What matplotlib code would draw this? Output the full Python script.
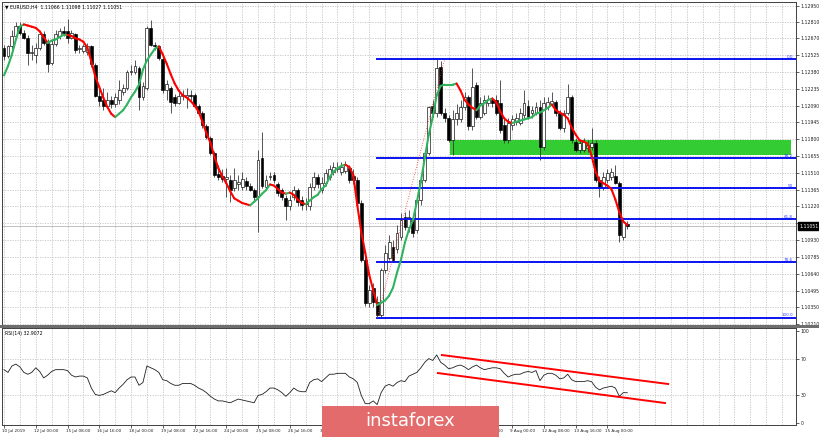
"""
EURUSD H4 - Hull MA, Fibonacci retracement, RSI(14) channel.
Values read off an MT4 screenshot, one entry per H4 bar (10 Jul 16:00 .. 15 Aug 20:00).
"""

import numpy as np
import matplotlib

matplotlib.use("Agg")
import matplotlib.pyplot as plt
from matplotlib.collections import LineCollection
from matplotlib.patches import Rectangle
from matplotlib.transforms import blended_transform_factory, ScaledTranslation

opens = [
    1.1259, 1.1252, 1.1260, 1.1269, 1.1278, 1.1272, 1.1267, 1.1254, 1.1253, 1.1259,
    1.1271, 1.1263, 1.1246, 1.1262, 1.1269, 1.1273, 1.1273, 1.1267, 1.1271, 1.1258,
    1.1256, 1.1255, 1.1260, 1.1244, 1.1217, 1.1214, 1.1209, 1.1214, 1.1210, 1.1214,
    1.1221, 1.1224, 1.1238, 1.1238, 1.1241, 1.1216, 1.1224, 1.1276, 1.1261, 1.1260,
    1.1249, 1.1222, 1.1224, 1.1216, 1.1211, 1.1217, 1.1216, 1.1218, 1.1218, 1.1209,
    1.1203, 1.1191, 1.1181, 1.1168, 1.1150, 1.1148, 1.1146, 1.1145, 1.1138, 1.1141,
    1.1139, 1.1144, 1.1140, 1.1136, 1.1131, 1.1164, 1.1139, 1.1147, 1.1149, 1.1141,
    1.1136, 1.1129, 1.1122, 1.1130, 1.1136, 1.1128, 1.1125, 1.1122, 1.1139, 1.1147,
    1.1136, 1.1142, 1.1147, 1.1152, 1.1154, 1.1152, 1.1153, 1.1155, 1.1148, 1.1145,
    1.1125, 1.1076, 1.1039, 1.1052, 1.1040, 1.1028, 1.1067, 1.1078, 1.1087, 1.1085,
    1.1096, 1.1113, 1.1104, 1.1110, 1.1102, 1.1128, 1.1145, 1.1168, 1.1209, 1.1203,
    1.1242, 1.1203, 1.1198, 1.1179, 1.1197, 1.1197, 1.1208, 1.1216, 1.1191, 1.1227,
    1.1199, 1.1203, 1.1211, 1.1214, 1.1214, 1.1211, 1.1192, 1.1179, 1.1192, 1.1195,
    1.1194, 1.1201, 1.1209, 1.1203, 1.1203, 1.1208, 1.1173, 1.1208, 1.1210, 1.1212,
    1.1203, 1.1190, 1.1203, 1.1216, 1.1178, 1.1171, 1.1171, 1.1172, 1.1173, 1.1177,
    1.1145, 1.1139, 1.1145, 1.1147, 1.1148, 1.1142, 1.1096, 1.11066,
]
highs = [
    1.1261, 1.1261, 1.1274, 1.1281, 1.1281, 1.1274, 1.1270, 1.1261, 1.1263, 1.1273,
    1.1273, 1.1266, 1.1266, 1.1274, 1.1276, 1.1278, 1.1284, 1.1274, 1.1272, 1.1261,
    1.1262, 1.1263, 1.1261, 1.1246, 1.1226, 1.1224, 1.1221, 1.1217, 1.1220, 1.1231,
    1.1228, 1.1240, 1.1244, 1.1248, 1.1243, 1.1229, 1.1278, 1.1283, 1.1264, 1.1261,
    1.1251, 1.1231, 1.1226, 1.1219, 1.1221, 1.1222, 1.1224, 1.1222, 1.1220, 1.1210,
    1.1204, 1.1193, 1.1183, 1.1170, 1.1158, 1.1154, 1.1155, 1.1149, 1.1155, 1.1149,
    1.1152, 1.1147, 1.1142, 1.1138, 1.1171, 1.1186, 1.1149, 1.1152, 1.1152, 1.1143,
    1.1138, 1.1132, 1.1132, 1.1140, 1.1138, 1.1131, 1.1129, 1.1142, 1.1152, 1.1150,
    1.1147, 1.1154, 1.1158, 1.1160, 1.1160, 1.1160, 1.1161, 1.1158, 1.1154, 1.1147,
    1.1128, 1.1080, 1.1054, 1.1056, 1.1045, 1.1069, 1.1089, 1.1097, 1.1093, 1.1106,
    1.1116, 1.1117, 1.1119, 1.1115, 1.1132, 1.1149, 1.1171, 1.1209, 1.1214, 1.1249,
    1.1247, 1.1207, 1.1201, 1.1205, 1.1210, 1.1214, 1.1221, 1.1218, 1.1241, 1.1229,
    1.1216, 1.1218, 1.1218, 1.1216, 1.1218, 1.1231, 1.1197, 1.1198, 1.1201, 1.1203,
    1.1207, 1.1222, 1.1214, 1.1209, 1.1212, 1.1214, 1.1216, 1.1216, 1.1221, 1.1214,
    1.1205, 1.1205, 1.1228, 1.1218, 1.1181, 1.1179, 1.1181, 1.1179, 1.1190, 1.1179,
    1.1148, 1.1152, 1.1154, 1.1155, 1.1158, 1.1144, 1.1112, 1.11098,
]
lows = [
    1.1248, 1.1250, 1.1258, 1.1266, 1.1270, 1.1266, 1.1244, 1.1248, 1.1246, 1.1257,
    1.1261, 1.1238, 1.1244, 1.1260, 1.1266, 1.1269, 1.1263, 1.1266, 1.1254, 1.1254,
    1.1254, 1.1253, 1.1242, 1.1216, 1.1209, 1.1205, 1.1207, 1.1207, 1.1208, 1.1210,
    1.1218, 1.1222, 1.1235, 1.1236, 1.1205, 1.1214, 1.1222, 1.1260, 1.1257, 1.1248,
    1.1220, 1.1214, 1.1203, 1.1209, 1.1210, 1.1214, 1.1207, 1.1214, 1.1208, 1.1202,
    1.1190, 1.1180, 1.1166, 1.1147, 1.1145, 1.1143, 1.1130, 1.1126, 1.1135, 1.1136,
    1.1136, 1.1136, 1.1135, 1.1128, 1.1100, 1.1138, 1.1136, 1.1145, 1.1142, 1.1131,
    1.1128, 1.1110, 1.1119, 1.1128, 1.1122, 1.1119, 1.1119, 1.1119, 1.1136, 1.1138,
    1.1134, 1.1140, 1.1145, 1.1149, 1.1152, 1.1149, 1.1151, 1.1142, 1.1141, 1.1122,
    1.1074, 1.1036, 1.1035, 1.1035, 1.1026, 1.1026, 1.1065, 1.1076, 1.1074, 1.1082,
    1.1093, 1.1102, 1.1100, 1.1096, 1.1099, 1.1123, 1.1143, 1.1166, 1.1199, 1.1199,
    1.1201, 1.1195, 1.1178, 1.1166, 1.1192, 1.1195, 1.1205, 1.1188, 1.1188, 1.1197,
    1.1197, 1.1201, 1.1209, 1.1208, 1.1201, 1.1185, 1.1177, 1.1177, 1.1188, 1.1192,
    1.1192, 1.1198, 1.1197, 1.1198, 1.1201, 1.1162, 1.1171, 1.1205, 1.1209, 1.1200,
    1.1188, 1.1186, 1.1201, 1.1177, 1.1169, 1.1168, 1.1169, 1.1169, 1.1171, 1.1143,
    1.1130, 1.1136, 1.1142, 1.1145, 1.1141, 1.1091, 1.1093, 1.11027,
]
closes = [
    1.1252, 1.1260, 1.1269, 1.1278, 1.1272, 1.1267, 1.1254, 1.1255, 1.1259, 1.1271,
    1.1263, 1.1245, 1.1262, 1.1271, 1.1273, 1.1272, 1.1267, 1.1272, 1.1257, 1.1259,
    1.1260, 1.1260, 1.1245, 1.1217, 1.1213, 1.1209, 1.1214, 1.1210, 1.1216, 1.1222,
    1.1224, 1.1238, 1.1239, 1.1243, 1.1216, 1.1226, 1.1276, 1.1261, 1.1260, 1.1250,
    1.1222, 1.1228, 1.1212, 1.1211, 1.1217, 1.1218, 1.1218, 1.1217, 1.1209, 1.1203,
    1.1192, 1.1182, 1.1168, 1.1149, 1.1147, 1.1146, 1.1147, 1.1136, 1.1145, 1.1143,
    1.1146, 1.1140, 1.1136, 1.1130, 1.1162, 1.1140, 1.1145, 1.1148, 1.1145, 1.1134,
    1.1130, 1.1122, 1.1128, 1.1136, 1.1126, 1.1123, 1.1124, 1.1139, 1.1147, 1.1141,
    1.1142, 1.1151, 1.1154, 1.1156, 1.1155, 1.1156, 1.1158, 1.1145, 1.1145, 1.1125,
    1.1076, 1.1039, 1.1050, 1.1040, 1.1028, 1.1067, 1.1082, 1.1091, 1.1076, 1.1099,
    1.1110, 1.1104, 1.1113, 1.1099, 1.1128, 1.1145, 1.1168, 1.1208, 1.1203, 1.1241,
    1.1203, 1.1198, 1.1179, 1.1197, 1.1203, 1.1208, 1.1216, 1.1191, 1.1225, 1.1199,
    1.1211, 1.1214, 1.1215, 1.1211, 1.1203, 1.1188, 1.1179, 1.1194, 1.1197, 1.1198,
    1.1203, 1.1211, 1.1199, 1.1205, 1.1208, 1.1173, 1.1211, 1.1212, 1.1213, 1.1203,
    1.1190, 1.1203, 1.1216, 1.1179, 1.1171, 1.1177, 1.1178, 1.1175, 1.1177, 1.1145,
    1.1138, 1.1147, 1.1151, 1.1152, 1.1142, 1.1097, 1.1109, 1.11051,
]
hull_ma = [
    1.1235, 1.1243, 1.1253, 1.1266, 1.1277, 1.1279, 1.1278, 1.1277, 1.1276, 1.1273,
    1.1268, 1.1263, 1.1265, 1.1266, 1.1268, 1.1270, 1.1270, 1.1269, 1.1267, 1.1266,
    1.1264, 1.1259, 1.1247, 1.1234, 1.1225, 1.1216, 1.1208, 1.1202, 1.1199, 1.1202,
    1.1205, 1.1210, 1.1216, 1.1221, 1.1227, 1.1240, 1.1248, 1.1253, 1.1258, 1.1260,
    1.1253, 1.1245, 1.1236, 1.1228, 1.1222, 1.1218, 1.1216, 1.1213, 1.1209, 1.1204,
    1.1195, 1.1185, 1.1177, 1.1165, 1.1155, 1.1148, 1.1142, 1.1135, 1.1129, 1.1127,
    1.1125, 1.1124, 1.1123, 1.1126, 1.1129, 1.1133, 1.1136, 1.1141, 1.1140, 1.1137,
    1.1134, 1.1133, 1.1134, 1.1132, 1.1128, 1.1125, 1.1124, 1.1127, 1.1130, 1.1132,
    1.1137, 1.1140, 1.1147, 1.1152, 1.1155, 1.1157, 1.1158, 1.1156, 1.1149, 1.1123,
    1.1100, 1.1082, 1.1063, 1.1050, 1.1037, 1.1039, 1.1041, 1.1045, 1.1052, 1.1065,
    1.1076, 1.1091, 1.1102, 1.1110, 1.1126, 1.1143, 1.1164, 1.1184, 1.1199, 1.1218,
    1.1226, 1.1227, 1.1227, 1.1227, 1.1228, 1.1222, 1.1214, 1.1210, 1.1207, 1.1205,
    1.1209, 1.1211, 1.1214, 1.1215, 1.1212, 1.1204, 1.1198, 1.1195, 1.1194, 1.1195,
    1.1196, 1.1197, 1.1198, 1.1199, 1.1202, 1.1203, 1.1205, 1.1207, 1.1210, 1.1205,
    1.1203, 1.1201, 1.1198, 1.1190, 1.1184, 1.1179, 1.1178, 1.1176, 1.1166, 1.1152,
    1.1144, 1.1142, 1.1140, 1.1137, 1.1128, 1.1117, 1.1109, 1.1106,
]
rsi = [
    58, 55, 62, 64, 61, 55, 53, 55, 60, 56,
    49, 52, 56, 58, 58, 58, 57, 52, 50, 51,
    51, 49, 38, 31, 30, 31, 33, 35, 33, 38,
    42, 47, 50, 50, 41, 44, 62, 60, 58, 55,
    47, 46, 43, 41, 41, 43, 43, 43, 41, 38,
    36, 33, 29, 26, 24, 24, 23, 22, 24, 26,
    25, 24, 23, 22, 30, 31, 34, 38, 38, 36,
    33, 29, 33, 38, 35, 34, 34, 44, 47, 48,
    45, 49, 53, 53, 54, 54, 54, 50, 48, 44,
    30, 21, 21, 24, 20, 33, 40, 42, 40, 44,
    46, 45, 51, 53, 55, 60, 66, 70, 68, 74,
    66, 63, 59, 60, 62, 63, 61, 58, 61, 63,
    60, 58, 59, 60, 60, 59, 54, 50, 52, 53,
    53, 55, 56, 55, 57, 46, 52, 54, 54, 52,
    48, 49, 53, 47, 45, 45, 45, 46, 45, 39,
    36, 38, 39, 40, 38, 29, 33, 32.9072,
]

price_ticks = [
    1.12950, 1.12810, 1.12670, 1.12525, 1.12380, 1.12235, 1.12090, 1.11945, 1.11800, 1.11655,
    1.11510, 1.11365, 1.11220, 1.11075, 1.10930, 1.10785, 1.10640, 1.10495, 1.10350, 1.10210,
]
date_bars = [0, 8, 16, 24, 32, 40, 48, 56, 64, 72, 80, 88, 96, 104, 112, 120, 128, 136, 144, 152]
date_labels = [
    "10 Jul 2019", "12 Jul 00:00", "15 Jul 08:00", "16 Jul 16:00", "18 Jul 00:00",
    "19 Jul 08:00", "22 Jul 16:00", "24 Jul 00:00", "25 Jul 08:00", "26 Jul 16:00",
    "30 Jul 00:00", "31 Jul 08:00", "1 Aug 16:00", "5 Aug 00:00", "6 Aug 08:00",
    "7 Aug 16:00", "9 Aug 00:00", "12 Aug 08:00", "13 Aug 16:00", "15 Aug 00:00",
]
rsi_ticks = [0, 30, 70, 100]

fib_levels = [0.0, 38.2, 50.0, 61.8, 78.6, 100.0]
fib_names = ["0.0", "38.2", "50", "61.8", "78.6", "100.0"]
fib_high, fib_low = 1.1249, 1.1026
fib_low_bar, fib_high_bar = 94, 111
zone_top, zone_bottom = 1.1179, 1.1166
zone_start, zone_end = 112.3, 198.2
rsi_upper_bars, rsi_upper_vals = [110.3, 167.3], [73.9, 42.4]
rsi_lower_bars, rsi_lower_vals = [109.3, 166.5], [54.3, 21.7]
last_price = 1.11051

W, H = 820, 437
FS = 3.3
GRID = dict(color="#c4c4c4", lw=0.6, linestyle=(0, (1.5, 1.5)), zorder=0)


def fx(px):
    return px / W


def fy(py):
    return 1 - py / H


def draw_candles(ax):
    o, h, l, c = (np.array(a) for a in (opens, highs, lows, closes))
    x = np.arange(len(c))
    up = c >= o
    ax.vlines(x, l, h, color="#3a3a3a", lw=0.6, zorder=2)
    lo = np.minimum(o, c)
    hgt = np.maximum(np.abs(c - o), 0.00001)
    ax.bar(x[up], hgt[up], bottom=lo[up], width=0.72, facecolor="white",
           edgecolor="black", lw=0.45, zorder=3)
    ax.bar(x[~up], hgt[~up], bottom=lo[~up], width=0.72, facecolor="black",
           edgecolor="black", lw=0.45, zorder=3)


def draw_hull(ax):
    ma = np.array(hull_ma)
    x = np.arange(len(ma))
    pts = np.column_stack([x, ma])
    segs = np.stack([pts[:-1], pts[1:]], axis=1)
    cols = ["#ff0000" if ma[i + 1] < ma[i] else "#2fb35e" for i in range(len(ma) - 1)]
    ax.add_collection(LineCollection(segs, colors=cols, linewidths=1.5, zorder=5,
                                     capstyle="round", joinstyle="round"))


def main():
    fig = plt.figure(figsize=(W / 100, H / 100), dpi=100)
    ax = fig.add_axes([fx(2), fy(325), fx(796) - fx(2), fy(2) - fy(325)])
    ax_rsi = fig.add_axes([fx(2), fy(425), fx(796) - fx(2), fy(328) - fy(425)])

    for a in (ax, ax_rsi):
        a.set_xlim(-0.5, 199.5)
        for s in a.spines.values():
            s.set_color("#404040")
            s.set_linewidth(0.7)
        for b in range(0, 200, 4):
            a.axvline(b, **GRID)

    # --- price panel ---
    ax.set_ylim(1.10198, 1.12983)
    for p in price_ticks:
        ax.axhline(p, **GRID)
    ax.axhline(last_price, color="#b4b4b4", lw=0.6, zorder=1)

    ax.add_patch(Rectangle((zone_start, zone_bottom), zone_end - zone_start,
                           zone_top - zone_bottom, facecolor="#33cc33",
                           edgecolor="none", zorder=1.5))

    rng = fib_high - fib_low
    for lvl, name in zip(fib_levels, fib_names):
        p = fib_high - lvl / 100 * rng
        ax.plot([fib_low_bar, 199.5], [p, p], color="#0a14f0", lw=1.4, zorder=4)
        ax.text(198.8, p + 0.00003, name, color="#3040ff", fontsize=FS - 0.3,
                ha="right", va="bottom", zorder=6)
    ax.plot([fib_low_bar, fib_high_bar], [fib_low, fib_high], color="#ff3030",
            lw=0.6, linestyle=(0, (1, 2)), zorder=4)

    draw_candles(ax)
    draw_hull(ax)

    ax.yaxis.tick_right()
    ax.set_yticks(price_ticks)
    ax.set_yticklabels(["" if p == 1.11075 else f"{p:.5f}" for p in price_ticks])
    ax.tick_params(axis="y", length=2, width=0.5, pad=1.5, labelsize=FS, colors="#202020")
    ax.tick_params(axis="x", length=0, labelbottom=False)

    tr = blended_transform_factory(ax.transAxes, ax.transData)
    ax.text(1.004, last_price, "1.11051", transform=tr, fontsize=FS, color="white",
            va="center", ha="left", zorder=8,
            bbox=dict(boxstyle="square,pad=0.25", facecolor="black", edgecolor="black"),
            clip_on=False)
    ax.text(0.004, 0.992, "\u25bc EURUSD,H4  1.11066 1.11098 1.11027 1.11051",
            transform=ax.transAxes, fontsize=FS, va="top", ha="left", color="black")

    # --- RSI panel ---
    ax_rsi.set_ylim(-2.2, 103.3)
    for v in (30, 70):
        ax_rsi.axhline(v, **GRID)
    ax_rsi.plot(np.arange(len(rsi)), rsi, color="#202020", lw=0.6, zorder=3)
    ax_rsi.plot(rsi_upper_bars, rsi_upper_vals, color="#ff0000", lw=1.4, zorder=4)
    ax_rsi.plot(rsi_lower_bars, rsi_lower_vals, color="#ff0000", lw=1.4, zorder=4)
    ax_rsi.text(0.004, 0.965, "RSI(14) 32.9072", transform=ax_rsi.transAxes,
                fontsize=FS, va="top", ha="left")

    ax_rsi.yaxis.tick_right()
    ax_rsi.set_yticks(rsi_ticks)
    ax_rsi.set_yticklabels([str(t) for t in rsi_ticks])
    ax_rsi.tick_params(axis="y", length=2, width=0.5, pad=1.5, labelsize=FS, colors="#202020")
    ax_rsi.set_xticks(date_bars)
    ax_rsi.set_xticklabels(date_labels, ha="left")
    ax_rsi.tick_params(axis="x", length=2, width=0.5, pad=1, labelsize=3.0, colors="#202020")
    shift = ScaledTranslation(-2 / 100, 0, fig.dpi_scale_trans)
    for lab in ax_rsi.get_xticklabels():
        lab.set_transform(lab.get_transform() + shift)

    # panel separator and watermark
    fig.patches.append(Rectangle((0, fy(328)), 1, 3 / H, transform=fig.transFigure,
                                 facecolor="#6e6e6e", edgecolor="none", zorder=9))
    fig.patches.append(Rectangle((fx(322), 0), fx(499) - fx(322), 31 / H,
                                 transform=fig.transFigure, facecolor="#e36b6b",
                                 edgecolor="none", zorder=10))
    fig.text(fx(410), fy(421), "instaforex", color="white", fontsize=13,
             ha="center", va="center", zorder=11)

    fig.savefig("out.png", dpi=100)
    plt.close(fig)


if __name__ == "__main__":
    main()
